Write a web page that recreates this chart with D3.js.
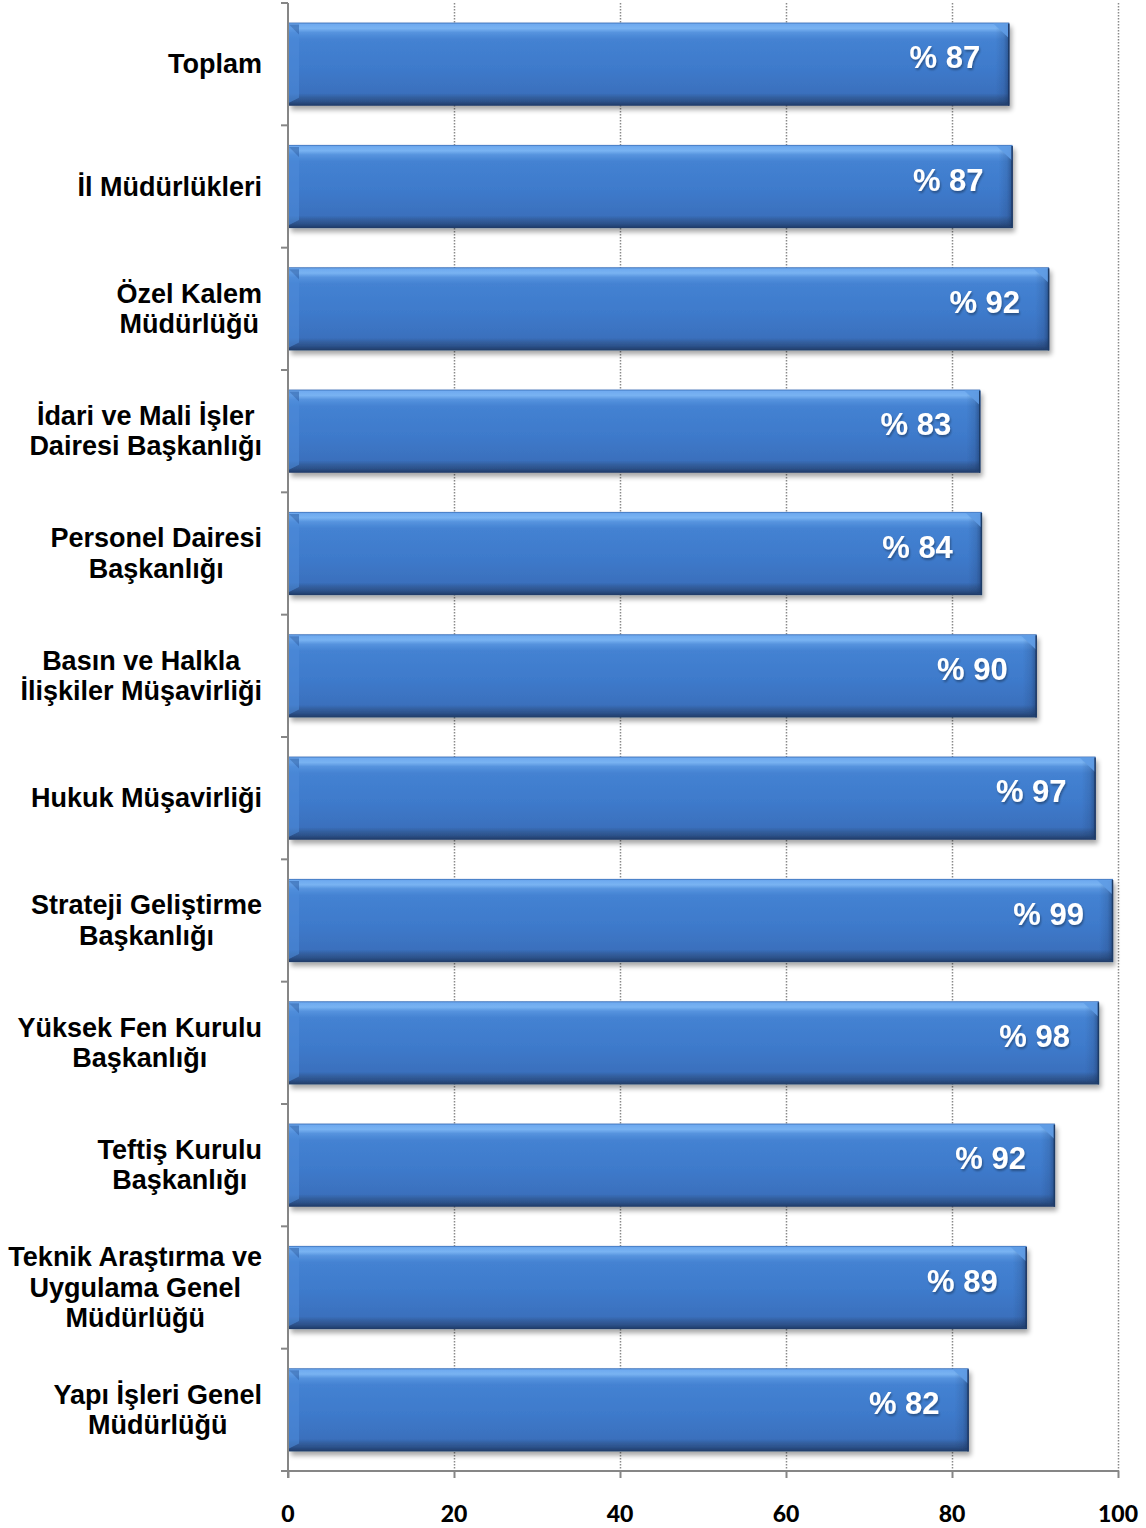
<!DOCTYPE html>
<html>
<head>
<meta charset="utf-8">
<script src="https://cdn.jsdelivr.net/npm/d3@7"></script>
<style>
  html, body { margin: 0; padding: 0; background: #fff; }
  svg { display: block; }
  .arial { font-family: "Liberation Sans", Arial, sans-serif; font-weight: bold; }
  .tick { font-family: Lato, "Open Sans", sans-serif; font-weight: 900; }
</style>
</head>
<body>
<svg id="chart" width="1146" height="1528"></svg>
<script>
const categories = [
  ["Toplam"],
  ["İl Müdürlükleri"],
  ["Özel Kalem", "Müdürlüğü"],
  ["İdari ve Mali İşler", "Dairesi Başkanlığı"],
  ["Personel Dairesi", "Başkanlığı"],
  ["Basın ve Halkla", "İlişkiler Müşavirliği"],
  ["Hukuk Müşavirliği"],
  ["Strateji Geliştirme", "Başkanlığı"],
  ["Yüksek Fen Kurulu", "Başkanlığı"],
  ["Teftiş Kurulu", "Başkanlığı"],
  ["Teknik Araştırma ve", "Uygulama Genel", "Müdürlüğü"],
  ["Yapı İşleri Genel", "Müdürlüğü"]
];
const values = [86.9, 87.3, 91.7, 83.4, 83.6, 90.2, 97.3, 99.4, 97.7, 92.4, 89.0, 82.0];
const valueLabels = ["% 87", "% 87", "% 92", "% 83", "% 84", "% 90", "% 97", "% 99", "% 98", "% 92", "% 89", "% 82"];
const xTicks = [0, 20, 40, 60, 80, 100];

const svg = d3.select("#chart");
const defs = svg.append("defs");

const g1 = defs.append("linearGradient").attr("id", "barGrad").attr("x1", 0).attr("y1", 0).attr("x2", 0).attr("y2", 1);
[
  [0, "#3a6db5"], [0.02, "#6eaaf0"], [0.07, "#79b3f2"], [0.12, "#5693de"],
  [0.2, "#4482d2"], [0.55, "#3e7acb"], [0.85, "#3a70bd"], [0.9, "#335f9f"],
  [0.95, "#2c5189"], [1, "#1f3a66"]
].forEach(([o, c]) => g1.append("stop").attr("offset", o).attr("stop-color", c));

const g2 = defs.append("linearGradient").attr("id", "rightGrad").attr("x1", 0).attr("y1", 0).attr("x2", 1).attr("y2", 0);
g2.append("stop").attr("offset", 0).attr("stop-color", "#1f3a66").attr("stop-opacity", 0);
g2.append("stop").attr("offset", 0.6).attr("stop-color", "#1f3a66").attr("stop-opacity", 0.18);
g2.append("stop").attr("offset", 1).attr("stop-color", "#16305a").attr("stop-opacity", 0.55);

const shadow = defs.append("filter").attr("id", "shadow").attr("x", "-5%").attr("y", "-20%").attr("width", "110%").attr("height", "150%");
shadow.append("feGaussianBlur").attr("in", "SourceAlpha").attr("stdDeviation", 2.5).attr("result", "blur");
shadow.append("feOffset").attr("dx", 2).attr("dy", 4).attr("result", "off");
shadow.append("feComponentTransfer").append("feFuncA").attr("type", "linear").attr("slope", 0.35);
const merge = shadow.append("feMerge");
merge.append("feMergeNode");
merge.append("feMergeNode").attr("in", "SourceGraphic");

const txtShadow = defs.append("filter").attr("id", "txtShadow").attr("x", "-10%").attr("y", "-20%").attr("width", "120%").attr("height", "150%");
txtShadow.append("feGaussianBlur").attr("in", "SourceAlpha").attr("stdDeviation", 1).attr("result", "b");
txtShadow.append("feOffset").attr("dx", 1).attr("dy", 1.5).attr("result", "o");
txtShadow.append("feComponentTransfer").append("feFuncA").attr("type", "linear").attr("slope", 0.35);
const m2 = txtShadow.append("feMerge");
m2.append("feMergeNode");
m2.append("feMergeNode").attr("in", "SourceGraphic");

const x = d3.scaleLinear().domain([0, 100]).range([288, 1118]);
const y = d3.scaleBand().domain(d3.range(categories.length)).range([3, 1471])
  .paddingInner(0.32).paddingOuter(0.16);

const axisY = 1471;

svg.append("g").selectAll("line").data(xTicks.filter(t => t > 0)).join("line")
  .attr("x1", d => x(d) + 0.5).attr("x2", d => x(d) + 0.5)
  .attr("y1", 3).attr("y2", axisY)
  .attr("stroke", "#8a8a8a").attr("stroke-width", 1.5).attr("stroke-dasharray", "1.5,1.5");

const bars = svg.append("g").selectAll("g").data(values).join("g");
bars.each(function(v, i) {
  const gg = d3.select(this);
  const x0 = x(0) + 1, x1 = x(v), y0 = y(i), h = y.bandwidth(), y1 = y0 + h;
  const grp = gg.append("g").attr("filter", "url(#shadow)");
  grp.append("rect").attr("x", x0).attr("y", y0).attr("width", x1 - x0).attr("height", h).attr("fill", "url(#barGrad)");
  grp.append("rect").attr("x", x1 - 14).attr("y", y0 + 2).attr("width", 14).attr("height", h - 4).attr("fill", "url(#rightGrad)");
  grp.append("path").attr("d", `M${x1 - 16},${y0 + 1} L${x1},${y0 + 1} L${x1},${y0 + 16} Z`).attr("fill", "#5f9ce6").attr("opacity", 0.9);
  grp.append("line").attr("x1", x1 - 0.5).attr("x2", x1 - 0.5).attr("y1", y0 + 1).attr("y2", y1).attr("stroke", "#1f3a66").attr("stroke-width", 1.5);
  grp.append("path").attr("d", `M${x0},${y0 + 2} L${x0 + 10},${y0 + 12} L${x0 + 10},${y1 - 8} L${x0},${y1 - 3} Z`).attr("fill", "#4c8ad8").attr("opacity", 0.6);
  grp.append("path").attr("d", `M${x0},${y0 + 2} L${x0 + 10},${y0 + 2} L${x0 + 10},${y0 + 12} Z`).attr("fill", "#2f61a8").attr("opacity", 0.6);
});

svg.append("g").selectAll("text").data(values).join("text")
  .attr("class", "arial")
  .attr("x", d => x(d) - 29)
  .attr("y", (d, i) => y(i) + y.bandwidth() / 2 + 4)
  .attr("text-anchor", "end")
  .attr("font-size", 31).attr("fill", "#fff")
  .attr("filter", "url(#txtShadow)")
  .text((d, i) => valueLabels[i]);

svg.append("line").attr("x1", 288).attr("x2", 288).attr("y1", 3).attr("y2", axisY + 7)
  .attr("stroke", "#868686").attr("stroke-width", 2);
const bounds = d3.range(categories.length + 1).map(i => i === categories.length ? axisY : y(i) - y.step() * 0.16);
svg.append("g").selectAll("line").data(bounds).join("line")
  .attr("x1", 281).attr("x2", 288).attr("y1", d => d).attr("y2", d => d)
  .attr("stroke", "#868686").attr("stroke-width", 2);

svg.append("line").attr("x1", 287).attr("x2", x(100) + 1).attr("y1", axisY).attr("y2", axisY)
  .attr("stroke", "#868686").attr("stroke-width", 2);
svg.append("g").selectAll("line").data(xTicks).join("line")
  .attr("x1", d => x(d) + 0.5).attr("x2", d => x(d) + 0.5).attr("y1", axisY).attr("y2", axisY + 7)
  .attr("stroke", "#868686").attr("stroke-width", 2);
svg.append("g").selectAll("text").data(xTicks).join("text")
  .attr("class", "tick")
  .attr("x", d => x(d)).attr("y", 1522)
  .attr("text-anchor", "middle")
  .attr("font-size", 23).attr("fill", "#000")
  .text(d => d);

const lab = svg.append("g").attr("class", "arial").attr("font-size", 27).attr("fill", "#000");
categories.forEach((lines, i) => {
  const t = lab.append("text").attr("text-anchor", "middle");
  const cy = y(i) + y.bandwidth() / 2;
  const lh = 30.5;
  lines.forEach((ln, j) => {
    t.append("tspan").attr("x", 0).attr("y", cy + 9 + (j - (lines.length - 1) / 2) * lh).text(ln);
  });
  const w = d3.max(t.selectAll("tspan").nodes(), n => n.getComputedTextLength());
  t.selectAll("tspan").attr("x", 262 - w / 2);
});
</script>
</body>
</html>
